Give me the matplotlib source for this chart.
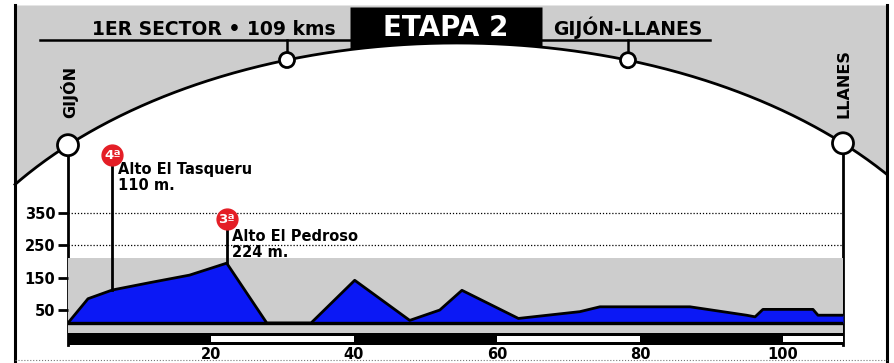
import numpy as np
import matplotlib
matplotlib.use("Agg")
import matplotlib.pyplot as plt
from matplotlib.patches import Circle, Rectangle

plt.rcParams["font.family"] = ["DejaVu Sans"]
plt.rcParams["font.weight"] = "bold"

# profile of the stage, km vs metres (as drawn)
profile_km = [0, 2.8, 6.2, 11.5, 17, 22.2, 27.8, 34, 40.1, 47.8, 52, 55.1, 63,
              71.6, 74.4, 87, 94.9, 96.1, 97.2, 104.2, 104.9, 108.4]
profile_m = [10, 85, 112, 135, 158, 195, 10, 10, 142, 18, 50, 111, 24,
             45, 60, 60, 34, 29, 52, 52, 34, 34]

# categorised climbs
climb_names = ["Alto El Tasqueru", "Alto El Pedroso"]
climb_heights = ["110 m.", "224 m."]
climb_cats = ["4ª", "3ª"]
climb_km = [6.2, 22.2]

y_ticks = [50, 150, 250, 350]
x_ticks = [20, 40, 60, 80, 100]
total_km = 108.4

title_left = "1ER SECTOR • 109 kms"
title_mid = "ETAPA 2"
title_right = "GIJÓN-LLANES"
start_town = "GIJÓN"
end_town = "LLANES"

blue = "#0b18f5"
red = "#e41e26"
stipple = "#cdcdcd"

W, H = 894, 363
fig = plt.figure(figsize=(W / 100, H / 100), dpi=100)

# decoration layer in pixel coordinates
deco = fig.add_axes([0, 0, 1, 1], zorder=0)
deco.set_xlim(0, W)
deco.set_ylim(H, 0)
deco.axis("off")


def arc(x):
    return 384 - 341 * np.sqrt(np.clip(1 - ((x - 457) / 545) ** 2, 0, None))


xs = np.linspace(15, 887, 400)
deco.fill_between(xs, 5, arc(xs), color=stipple, lw=0)
deco.plot(xs, arc(xs), color="black", lw=2)
deco.plot([15, 15], [5, H], color="black", lw=2.2)
deco.plot([887, 887], [5, H], color="black", lw=2.2)
deco.plot([15, 887], [360, 360], color="#777777", lw=0.8, ls=":")

bx = np.linspace(350, 542, 100)
deco.fill_between(bx, 7, arc(bx), color="black", lw=0)
deco.text(446, 28, title_mid, color="white", fontsize=20, ha="center", va="center")

deco.plot([40, 350], [40, 40], color="black", lw=1.8)
deco.plot([542, 710], [40, 40], color="black", lw=1.8)
deco.text(214, 35, title_left, fontsize=13.5, ha="center", va="baseline")
deco.text(628, 35, title_right, fontsize=13.5, ha="center", va="baseline")

for cx in [287, 628]:
    deco.plot([cx, cx], [40, arc(cx)], color="black", lw=1.8)
    deco.add_patch(Circle((cx, arc(cx)), 7.5, facecolor="white", edgecolor="black", lw=2, zorder=5))

for cx, name, ty in [(68, start_town, 92), (843, end_town, 84)]:
    cy = arc(cx)
    deco.plot([cx, cx], [cy, 345], color="black", lw=2)
    deco.add_patch(Circle((cx, cy), 10.5, facecolor="white", edgecolor="black", lw=2, zorder=5))
    deco.text(cx + 1, ty, name, rotation=90, fontsize=11.5, ha="center", va="center")

# profile axes, placed so km/m fall where the original puts them
x0, x1 = 68, 843
ytop, ybot = 140, 346
ax = fig.add_axes([x0 / W, (H - ybot) / H, (x1 - x0) / W, (ybot - ytop) / H], zorder=1)
ax.patch.set_alpha(0)
ax.set_xlim(0, total_km)
ax.set_ylim((326.2 - ybot) / 0.3233, (326.2 - ytop) / 0.3233)
for s in ax.spines.values():
    s.set_visible(False)

ax.fill_between([0, total_km], -22, 210, color=stipple, lw=0)
for t in [250, 350]:
    ax.axhline(t, color="black", lw=0.9, ls=(0, (1, 1.5)))

base = 10
ax.fill_between(profile_km, base, profile_m, color=blue, lw=0)
ax.plot(profile_km, profile_m, color="black", lw=2)
ax.plot([0, total_km], [base - 1, base - 1], color="black", lw=2.4)

# km scale bar
ax.add_patch(Rectangle((0, -59), total_km, 37, color="black", lw=0))
edges = [0] + x_ticks + [total_km]
for i in range(1, len(edges) - 1, 2):
    ax.add_patch(Rectangle((edges[i], -50), edges[i + 1] - edges[i], 20, color="white", lw=0))

ax.set_yticks(y_ticks)
ax.set_yticklabels([str(v) for v in y_ticks], fontsize=10.5, fontweight="bold")
ax.tick_params(axis="y", length=7, width=2, direction="out", pad=2)
ax.set_xticks(x_ticks)
ax.set_xticklabels([str(v) for v in x_ticks], fontsize=10.5, fontweight="bold")
ax.tick_params(axis="x", length=0, pad=1)

circle_m = [529, 331]
text_m = [507, 300]
for km, name, h, cat, cm, tm in zip(climb_km, climb_names, climb_heights, climb_cats, circle_m, text_m):
    top = np.interp(km, profile_km, profile_m)
    ax.plot([km, km], [top, cm], color="black", lw=2, clip_on=False)
    ax.plot(km, cm, "o", ms=15, color=red, mec=red, clip_on=False, zorder=5)
    ax.text(km, cm, cat, color="white", fontsize=9.5, ha="center", va="center", zorder=6)
    ax.text(km + 0.8, tm, name + "\n" + h, fontsize=10.5, ha="left", va="top",
            linespacing=1.05)

fig.savefig("out.png", dpi=100)
